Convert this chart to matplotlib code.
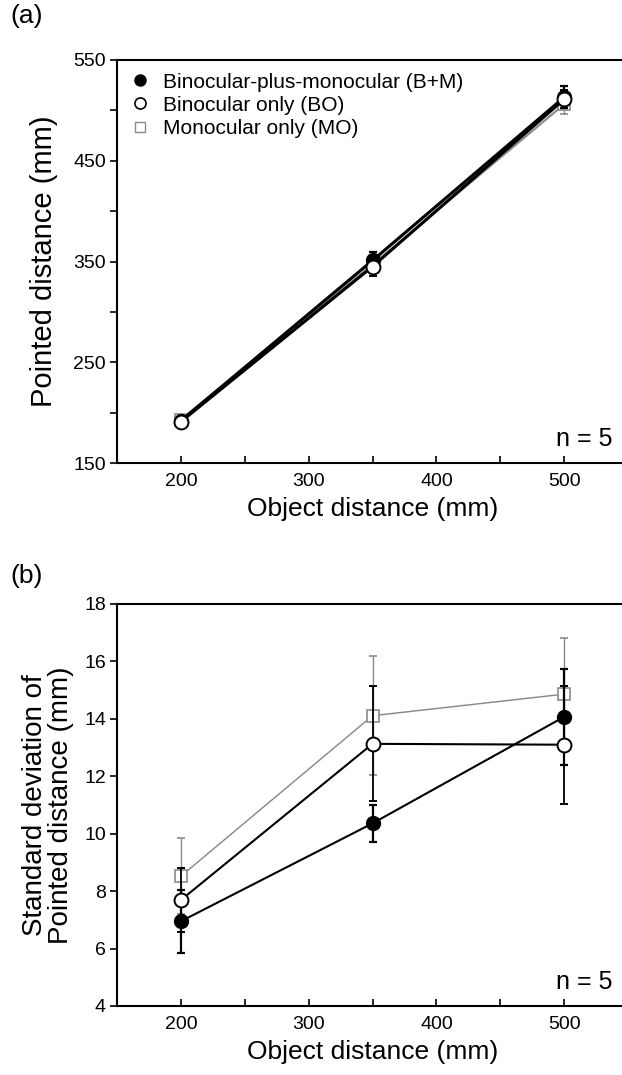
import matplotlib
matplotlib.use('Agg')
import matplotlib.pyplot as plt
from matplotlib.lines import Line2D
import numpy as np

plt.rcParams['font.family'] = ['Liberation Sans', 'DejaVu Sans']

# object distances shared by both panels
distances = [200, 350, 500]

# (a) mean pointed distance (mm) and error
bm_mean = [192, 351, 513]
bm_err = [5, 8, 11]
bo_mean = [191, 345, 511]
bo_err = [4, 9, 9]
mo_mean = [193, 347, 506]
mo_err = [4, 7, 10]

# (b) standard deviation of pointed distance (mm) and error
bm_sd = [6.95, 10.36, 14.07]
bm_sd_err = [1.1, 0.65, 1.68]
bo_sd = [7.69, 13.13, 13.1]
bo_sd_err = [1.13, 2.0, 2.06]
mo_sd = [8.52, 14.11, 14.86]
mo_sd_err = [1.32, 2.08, 1.97]

legend_labels = ['Binocular-plus-monocular (B+M)', 'Binocular only (BO)', 'Monocular only (MO)']

figureWidth = 6.22
figureHeight = 10.75
fig = plt.figure(figsize=(figureWidth, figureHeight), dpi=100)

gray = '#8a8a8a'

panelA = fig.add_axes([117/622, 1 - 463/1075, 511/622, 403/1075])
panelB = fig.add_axes([117/622, 1 - 1006/1075, 511/622, 402/1075])


def draw_series(ax, m_bm, e_bm, m_bo, e_bo, m_mo, e_mo, lw):
    # monocular only first, open circles last so they stay visible
    ax.errorbar(distances, m_mo, yerr=e_mo, color=gray, ecolor=gray, elinewidth=1.0,
                capsize=3, capthick=1.0, linewidth=lw * 0.7, marker='s', markersize=9,
                markerfacecolor='white', markeredgecolor=gray, markeredgewidth=1.2, zorder=2)
    ax.errorbar(distances, m_bm, yerr=e_bm, color='black', ecolor='black', elinewidth=1.6,
                capsize=3, capthick=1.6, linewidth=lw, marker='o', markersize=10,
                markerfacecolor='black', markeredgecolor='black', zorder=3)
    ax.errorbar(distances, m_bo, yerr=e_bo, color='black', ecolor='black', elinewidth=1.3,
                capsize=3, capthick=1.3, linewidth=lw, marker='o', markersize=10,
                markerfacecolor='white', markeredgecolor='black', markeredgewidth=1.4, zorder=4)


draw_series(panelA, bm_mean, bm_err, bo_mean, bo_err, mo_mean, mo_err, 2.2)
draw_series(panelB, bm_sd, bm_sd_err, bo_sd, bo_sd_err, mo_sd, mo_sd_err, 1.5)

for ax in (panelA, panelB):
    ax.set_xlim(150, 550)
    ax.set_xticks([200, 300, 400, 500])
    ax.set_xticks([250, 350, 450], minor=True)
    ax.tick_params(axis='x', which='both', direction='in', length=5, width=1.2,
                   labelsize=14, pad=7)
    ax.tick_params(axis='y', which='both', direction='out', length=5, width=1.2,
                   labelsize=14, pad=3)
    ax.spines['right'].set_visible(False)
    for s in ('left', 'bottom', 'top'):
        ax.spines[s].set_linewidth(1.5)
    ax.set_xlabel('Object distance (mm)', fontsize=19, labelpad=5)
    ax.text(0.969, 0.03, 'n = 5', transform=ax.transAxes, ha='right', va='bottom', fontsize=18)

panelA.set_ylim(150, 550)
panelA.set_yticks([150, 250, 350, 450, 550])
panelA.set_yticks([200, 300, 400, 500], minor=True)
panelA.set_ylabel('Pointed distance (mm)', fontsize=21, labelpad=11)

panelB.set_ylim(4, 18)
panelB.set_yticks(np.arange(4, 19, 2))
panelB.set_ylabel('Standard deviation of\nPointed distance (mm)', fontsize=20, labelpad=7,
                  linespacing=1.0)

handles = [
    Line2D([], [], linestyle='none', marker='o', markersize=8, markerfacecolor='black',
           markeredgecolor='black'),
    Line2D([], [], linestyle='none', marker='o', markersize=8, markerfacecolor='white',
           markeredgecolor='black', markeredgewidth=1.2),
    Line2D([], [], linestyle='none', marker='s', markersize=7, markerfacecolor='white',
           markeredgecolor=gray, markeredgewidth=1.0),
]
panelA.legend(handles, legend_labels, loc='upper left', frameon=False, fontsize=15,
              handlelength=1.0, handletextpad=0.6, labelspacing=0.2,
              borderaxespad=0.2, bbox_to_anchor=(0.0, 1.0))

fig.text(10/622, 1 - 16/1075, '(a)', fontsize=19, ha='left', va='center')
fig.text(10/622, 1 - 576/1075, '(b)', fontsize=19, ha='left', va='center')

plt.savefig('out.png', dpi=100)
